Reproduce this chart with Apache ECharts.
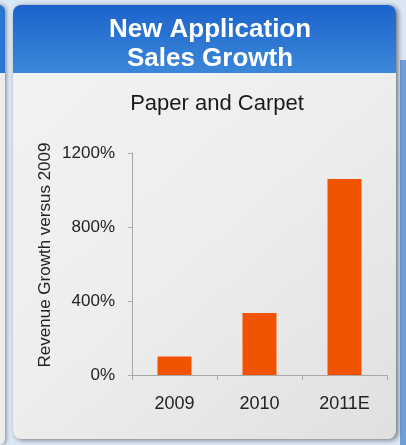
<!DOCTYPE html>
<html>
<head>
<meta charset="utf-8">
<script src="https://cdn.jsdelivr.net/npm/echarts@6/dist/echarts.min.js"></script>
<style>
  html, body { margin: 0; padding: 0; background: #dbe7f4; }
  #chart { width: 406px; height: 445px; }
</style>
</head>
<body>
<div id="chart"></div>
<script>
// Revenue growth of new application sales, relative to 2009
const categories = ['2009', '2010', '2011E'];
const growthPct = [100, 335, 1060];
const yTicks = [0, 400, 800, 1200];

const FONT = 'Liberation Sans, Arial, sans-serif';
const chart = echarts.init(document.getElementById('chart'), null, { renderer: 'canvas' });

const panel = { x: 13, y: 5, w: 383, h: 434, header: 68 };

chart.setOption({
  animation: false,
  backgroundColor: '#dbe7f4',
  graphic: [
    // neighbouring panel peeking in at the left edge
    { type: 'rect', z: -10, shape: { x: -20, y: 5, width: 25, height: 440, r: 6 },
      style: { fill: '#ececec', shadowBlur: 4, shadowColor: 'rgba(0,0,0,0.45)', shadowOffsetX: 1 } },
    { type: 'rect', z: -9, shape: { x: -20, y: 5, width: 25, height: 68, r: [6, 6, 0, 0] },
      style: { fill: '#2a74d2' } },
    // neighbouring panel at the right edge
    { type: 'rect', z: -10, shape: { x: 400, y: 60, width: 20, height: 390 },
      style: { fill: '#6f9fd8' } },
    // main card body
    { type: 'rect', z: -8, shape: { x: panel.x, y: panel.y, width: panel.w, height: panel.h, r: 8 },
      style: {
        fill: new echarts.graphic.LinearGradient(0, 0, 1, 1, [
          { offset: 0, color: '#f3f3f3' },
          { offset: 0.5, color: '#eeeeee' },
          { offset: 1, color: '#e0e0e0' }
        ]),
        shadowBlur: 5, shadowColor: 'rgba(0,0,0,0.5)', shadowOffsetX: 2, shadowOffsetY: 1
      } },
    // blue header strip
    { type: 'rect', z: -7, shape: { x: panel.x, y: panel.y, width: panel.w, height: panel.header, r: [8, 8, 0, 0] },
      style: {
        fill: new echarts.graphic.LinearGradient(0, 0, 0, 1, [
          { offset: 0, color: '#1c63cb' },
          { offset: 1, color: '#3b87d8' }
        ])
      } },
    // value axis caption
    { type: 'text', z: 5, x: 45, y: 255, rotation: Math.PI / 2,
      style: { text: 'Revenue Growth versus 2009', fill: '#222', font: '17px ' + FONT,
               align: 'center', verticalAlign: 'middle' } }
  ],
  title: [
    {
      text: 'New Application\nSales Growth',
      left: 205, top: 10, textAlign: 'center',
      textStyle: { color: '#ffffff', fontSize: 26, fontWeight: 'bold', fontFamily: FONT, lineHeight: 29 }
    },
    {
      text: 'Paper and Carpet',
      left: 212, top: 88, textAlign: 'center',
      textStyle: { color: '#1a1a1a', fontSize: 22, fontWeight: 'normal', fontFamily: FONT }
    }
  ],
  grid: { left: 132, right: 19, top: 153, bottom: 70, containLabel: false },
  xAxis: {
    type: 'category',
    data: categories,
    axisLine: { lineStyle: { color: '#a8a8a8', width: 1 } },
    axisTick: { show: true, length: 5, lineStyle: { color: '#a8a8a8' } },
    axisLabel: { color: '#222', fontSize: 18, margin: 20, fontFamily: FONT }
  },
  yAxis: {
    type: 'value',
    min: yTicks[0], max: yTicks[yTicks.length - 1], interval: 400,
    axisLine: { show: true, lineStyle: { color: '#a8a8a8', width: 1 } },
    axisTick: { show: true, length: 4, lineStyle: { color: '#a8a8a8' } },
    splitLine: { show: false },
    axisLabel: { color: '#222', fontSize: 17, margin: 17, fontFamily: FONT,
                 formatter: v => v + '%' }
  },
  series: [{
    type: 'bar',
    data: growthPct,
    barWidth: '40%',
    itemStyle: { color: '#f25300' }
  }]
});
</script>
</body>
</html>
